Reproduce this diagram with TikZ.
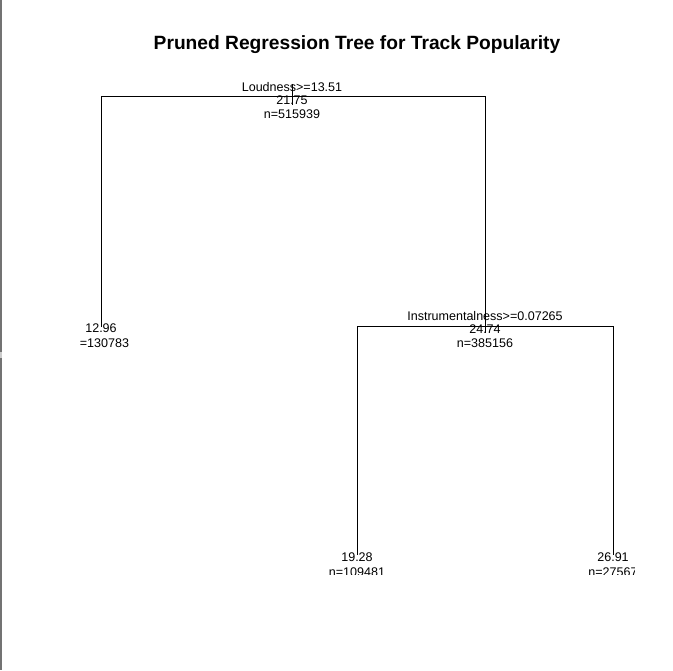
\documentclass[tikz,border=0pt]{standalone}
\usepackage{fontspec}
\setmainfont{Liberation Sans}
\begin{document}
\begin{tikzpicture}[x=0.75pt,y=-0.75pt,
  lab/.style={font=\fontsize{9.4}{11}\selectfont, inner sep=0pt, anchor=base},
  ttl/.style={font=\fontsize{14.4}{17}\selectfont\bfseries, inner sep=0pt, anchor=base},
  branch/.style={draw=black, line width=0.75pt}]
\useasboundingbox (0,0) rectangle (673,670);
\fill[white] (0,0) rectangle (673,670);
\fill[black!55] (0,0) rectangle (1.8,670);
\fill[black!20] (0,352) rectangle (1.8,358);
\node[ttl] (title) at (357,49.5) {Pruned Regression Tree for Track Popularity};
\begin{scope}
\clip (80,60) rectangle (634,574);
% coordinates
\coordinate (rtop) at (292,84);
\coordinate (rbot) at (292,105);
\coordinate (rL) at (101,97);
\coordinate (rR) at (485,97);
\coordinate (l1) at (101,327);
\coordinate (n2b) at (485,333);
\coordinate (s2L) at (357,326);
\coordinate (s2R) at (613,326);
\coordinate (l2) at (357,555);
\coordinate (l3) at (613,555);
% branches
\draw[branch] (rtop) -- (rbot);
\draw[branch] (l1) -- (rL) -- (rR) -- (n2b);
\draw[branch] (l2) -- (s2L) -- (s2R) -- (l3);
% labels
\node[lab] (rsplit) at (292,91.5) {Loudness>=13.51};
\node[lab] (rval) at (292,104.5) {21.75};
\node[lab] (rn) at (292,118.5) {n=515939};
\node[lab] (l1val) at (101,332.5) {12.96};
\node[lab] (l1n) at (101,347.5) {n=130783};
\node[lab] (n2split) at (485,320.5) {Instrumentalness>=0.07265};
\node[lab] (n2val) at (485,333.5) {24.74};
\node[lab] (n2n) at (485,347.5) {n=385156};
\node[lab] (l2val) at (357,561.5) {19.28};
\node[lab] (l2n) at (357,576.5) {n=109481};
\node[lab] (l3val) at (613,561.5) {26.91};
\node[lab] (l3n) at (613,576.5) {n=27567};
\end{scope}
\end{tikzpicture}
\end{document}
